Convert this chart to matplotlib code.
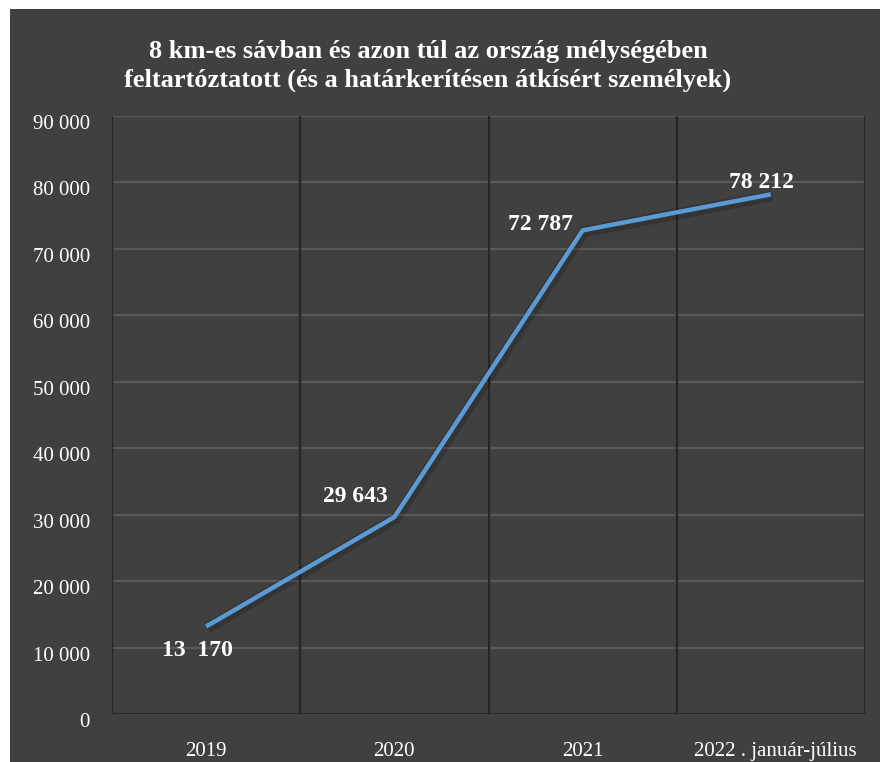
import matplotlib
matplotlib.use("Agg")
import matplotlib.pyplot as plt
import matplotlib.patheffects as pe
import matplotlib.transforms as mtrans
from matplotlib.patches import Rectangle
from matplotlib.ticker import FuncFormatter

categories = ["2019", "2020", "2021", "2022 . január-július"]
values = [13170, 29643, 72787, 78212]
value_labels = ["13  170", "29 643", "72 787", "78 212"]
y_ticks = [0, 10000, 20000, 30000, 40000, 50000, 60000, 70000, 80000, 90000]
title_text = "8 km-es sávban és azon túl az ország mélységében\nfeltartóztatott (és a határkerítésen átkísért személyek)"

BG = "#404040"
FONT = "Liberation Serif"

fig = plt.figure(figsize=(8.8, 7.62), dpi=100, facecolor="white")
fig.patches.append(Rectangle((10 / 880, 0), 1, (762 - 9) / 762, transform=fig.transFigure,
                             facecolor=BG, edgecolor="none", zorder=-10))

ax = fig.add_axes([112 / 880, 1 - 714 / 762, (865 - 112) / 880, (714 - 116) / 762])
ax.set_facecolor(BG)
x = list(range(len(categories)))
ax.set_xlim(-0.5, len(categories) - 0.5)
ax.set_ylim(0, 90000)

# grid
for yv in y_ticks[1:]:
    ax.axhline(yv, color="#595959", lw=1.6, zorder=1)
ax.axhline(0, color="#2a2a2a", lw=1.6, zorder=1)
for xv in [-0.5, 0.5, 1.5, 2.5, 3.5]:
    ax.axvline(xv, color="#262626", lw=1.6, zorder=1)

for s in ax.spines.values():
    s.set_visible(False)

ax.plot(x, values, color="#5B9BD5", lw=3.2, solid_capstyle="butt", zorder=3,
        path_effects=[pe.SimpleLineShadow(offset=(1, -1), shadow_color="black", alpha=0.18, linewidth=8),
                      pe.Normal()])

ax.set_yticks(y_ticks)
ax.yaxis.set_major_formatter(FuncFormatter(lambda v, p: "0" if v == 0 else f"{int(v):,}".replace(",", " ")))
ax.set_xticks(x)
ax.set_xticklabels(categories)
ax.tick_params(axis="both", length=0, colors="white", labelsize=15)
ax.tick_params(axis="y", pad=16)
ax.tick_params(axis="x", pad=20)
for lab in ax.get_yticklabels() + ax.get_xticklabels():
    lab.set_fontfamily(FONT)
    lab.set_color("white")
off = mtrans.ScaledTranslation(0, -6 / 100, fig.dpi_scale_trans)
for lab in ax.get_yticklabels():
    lab.set_transform(lab.get_transform() + off)
ax.get_xticklabels()[-1].set_transform(ax.get_xticklabels()[-1].get_transform() +
                                       mtrans.ScaledTranslation(4 / 100, 0, fig.dpi_scale_trans))

offsets = [(-9, -24), (-39, 21), (-42, 6), (-9, 12)]
for xi, v, lbl, o in zip(x, values, value_labels, offsets):
    ax.annotate(lbl, (xi, v), xytext=o, textcoords="offset pixels", ha="center", va="center",
                color="white", fontsize=17, fontweight="bold", fontfamily=FONT, zorder=4)

fig.text(428 / 880, 1 - 66 / 762, title_text, ha="center", va="center", color="white",
         fontsize=19, fontweight="bold", fontfamily=FONT, linespacing=1.3)

fig.savefig("out.png", dpi=100, facecolor=fig.get_facecolor())
